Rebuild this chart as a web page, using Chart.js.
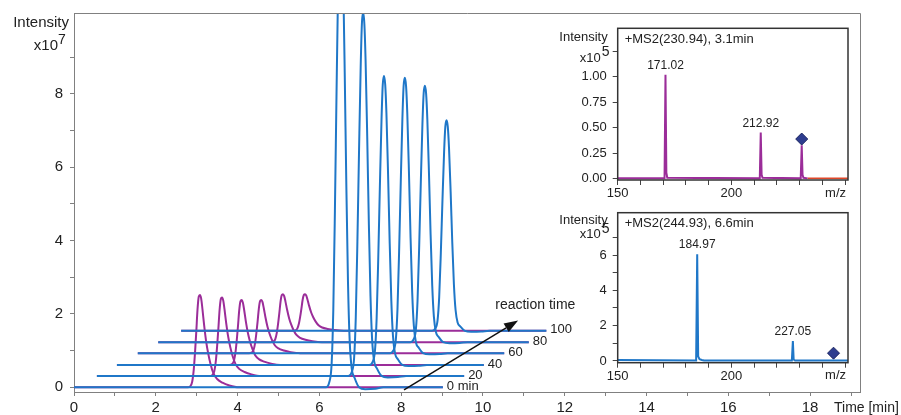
<!DOCTYPE html>
<html lang="en">
<head>
<meta charset="UTF-8">
<title>Reaction monitoring chromatograms</title>
<script src="https://cdn.jsdelivr.net/npm/chart.js"></script>
<style>
  body { margin: 0; background: #fff; }
  #wrap { position: relative; width: 901px; height: 415px; }
  #wrap canvas { position: absolute; }
  #mainChart { left: 0; top: 0; }
  #ms1 { left: 545px; top: 20px; }
  #ms2 { left: 545px; top: 205px; }
</style>
</head>
<body>
<div id="wrap">
  <canvas id="mainChart" width="901" height="415"></canvas>
  <canvas id="ms1" width="310" height="185"></canvas>
  <canvas id="ms2" width="310" height="185"></canvas>
</div>

<script>
  // ---- chromatograms (one per reaction time, stacked) ----
  const traceLabels  = ['0 min', '20', '40', '60', '80', '100'];
  const traceStart   = [0, 0.56, 1.05, 1.56, 2.06, 2.62];     // min
  const traceEnd     = [9.02, 9.54, 10.02, 10.52, 11.12, 11.55];
  const traceBase    = [0, 0.31, 0.61, 0.93, 1.23, 1.54];      // x10^7
  const purpleApex   = [3.08, 3.62, 4.10, 4.58, 5.11, 5.65];
  const purpleHeight = [2.52, 2.14, 1.77, 1.45, 1.31, 1.0];
  const blueApex     = [6.52, 7.07, 7.58, 8.09, 8.58, 9.11];
  const blueHeight   = [13, 9.9, 7.88, 7.51, 6.99, 5.74];

  // peak shapes: distance from apex (min), share of apex height
  const purpleDt  = [-0.30, -0.24, -0.19, -0.15, -0.12, -0.09, -0.06, -0.03, 0, 0.03, 0.06, 0.10, 0.15, 0.20, 0.26, 0.33, 0.42, 0.55, 0.72, 0.95];
  const purpleRel = [0, 0.01, 0.06, 0.20, 0.38, 0.60, 0.84, 0.98, 1, 0.96, 0.85, 0.68, 0.50, 0.37, 0.25, 0.15, 0.09, 0.05, 0.02, 0];
  // blue baseline sags a little after the peak, which lets the purple trace show there
  const blueDt    = [-0.36, -0.28, -0.22, -0.18, -0.14, -0.10, -0.06, -0.03, 0, 0.03, 0.06, 0.10, 0.14, 0.18, 0.22, 0.27, 0.34, 0.45, 0.60, 0.85, 1.05];
  const blueRel   = [0, 0.01, 0.05, 0.16, 0.37, 0.62, 0.85, 0.97, 1, 0.97, 0.87, 0.66, 0.42, 0.22, 0.10, 0.04, 0.02, 0.0, -0.004, -0.003, 0];

  // arrow + label, in data units
  const arrowFrom = [8.07, -0.07];
  const arrowTo   = [10.86, 1.82];
  const arrowText = [10.3, 2.24];

  // ---- MS2 spectra ----
  const ms1Mz   = [150, 170.6, 171.02, 171.4, 171.8, 212.5, 212.92, 213.3, 213.7, 230.5, 230.94, 231.3, 231.7, 233.5];
  const ms1Int  = [0.006, 0.004, 1.02, 0.06, 0.01, 0.004, 0.455, 0.04, 0.01, 0.004, 0.33, 0.04, 0.01, 0.004];
  const ms1TailMz  = [233.5, 251.3];
  const ms1TailInt = [0.004, 0.004];
  const ms1PeakMz  = [171.02, 212.92];
  const ms1PeakInt = [1.02, 0.455];
  const ms1PrecMz  = 230.94;
  const ms1PrecInt = 0.39;

  const ms2Mz   = [150, 184.5, 184.97, 185.4, 186, 187, 188, 226.6, 227.05, 227.4, 228, 251.3];
  const ms2Int  = [0.05, 0.03, 6.05, 0.25, 0.1, 0.05, 0.02, 0.02, 1.13, 0.08, 0.02, 0.02];
  const ms2PeakMz  = [184.97, 227.05];
  const ms2PeakInt = [6.05, 1.13];
  const ms2PrecMz  = 244.93;
  const ms2PrecInt = 0.44;

  const BLUE = '#1f77c8';
  const PURPLE = '#9b2d99';
  const FONT = 'Liberation Sans, Arial, sans-serif';
  Chart.defaults.font.family = FONT;
  Chart.defaults.color = '#222';

  function tracePoints(k, apex, height, dt, rel) {
    const pts = [{ x: traceStart[k], y: traceBase[k] }];
    for (let i = 0; i < dt.length; i++) {
      pts.push({ x: apex[k] + dt[i], y: traceBase[k] + height[k] * rel[i] });
    }
    pts.push({ x: traceEnd[k], y: traceBase[k] });
    return pts;
  }

  // keep the plot box where we put it (no extra room for edge tick labels)
  function fixBox(size, key) {
    return s => {
      s[key] = size;
      s.paddingTop = 0; s.paddingBottom = 0; s.paddingLeft = 0; s.paddingRight = 0;
    };
  }

  const lineStyle = { borderWidth: 2, pointRadius: 0, fill: false, cubicInterpolationMode: 'monotone' };
  const mainSets = [];
  // blue first so it lies on top
  for (let k = 0; k < traceLabels.length; k++) {
    mainSets.push({ ...lineStyle, borderColor: BLUE, data: tracePoints(k, blueApex, blueHeight, blueDt, blueRel) });
  }
  for (let k = 0; k < traceLabels.length; k++) {
    mainSets.push({ ...lineStyle, borderColor: PURPLE, data: tracePoints(k, purpleApex, purpleHeight, purpleDt, purpleRel) });
  }

  const mainDecor = {
    id: 'mainDecor',
    afterDraw(chart) {
      const { ctx, chartArea: a, scales: { x, y } } = chart;
      ctx.save();
      // frame top + right
      ctx.strokeStyle = '#808080';
      ctx.lineWidth = 1;
      ctx.beginPath();
      ctx.moveTo(a.left, a.top + 0.5);
      ctx.lineTo(a.right + 0.5, a.top + 0.5);
      ctx.lineTo(a.right + 0.5, a.bottom);
      ctx.stroke();

      // reaction time labels at trace ends
      ctx.fillStyle = '#222';
      ctx.font = '13px ' + FONT;
      ctx.textAlign = 'left';
      ctx.textBaseline = 'middle';
      traceLabels.forEach((t, k) => {
        ctx.fillText(t, x.getPixelForValue(traceEnd[k]) + 4, y.getPixelForValue(traceBase[k]) - 1);
      });

      // arrow
      const x0 = x.getPixelForValue(arrowFrom[0]), y0 = y.getPixelForValue(arrowFrom[1]);
      const x1 = x.getPixelForValue(arrowTo[0]), y1 = y.getPixelForValue(arrowTo[1]);
      const ang = Math.atan2(y1 - y0, x1 - x0);
      const hl = 14, hw = 5;
      const bx = x1 - hl * Math.cos(ang), by = y1 - hl * Math.sin(ang);
      ctx.strokeStyle = '#111';
      ctx.lineWidth = 1.5;
      ctx.beginPath();
      ctx.moveTo(x0, y0);
      ctx.lineTo(bx, by);
      ctx.stroke();
      ctx.fillStyle = '#111';
      ctx.beginPath();
      ctx.moveTo(x1, y1);
      ctx.lineTo(bx + hw * Math.sin(ang), by - hw * Math.cos(ang));
      ctx.lineTo(bx - hw * Math.sin(ang), by + hw * Math.cos(ang));
      ctx.closePath();
      ctx.fill();

      ctx.fillStyle = '#222';
      ctx.font = '14px ' + FONT;
      ctx.fillText('reaction time', x.getPixelForValue(arrowText[0]), y.getPixelForValue(arrowText[1]));

      // axis titles
      ctx.font = '15px ' + FONT;
      ctx.textAlign = 'right';
      ctx.fillText('Intensity', 69, 23);
      ctx.fillText('x10', 58, 46);
      ctx.textAlign = 'left';
      ctx.font = '14px ' + FONT;
      ctx.fillText('7', 58, 40);
      ctx.fillText('Time [min]', 834, 408);
      ctx.restore();
    }
  };

  new Chart(document.getElementById('mainChart'), {
    type: 'line',
    data: { datasets: mainSets },
    options: {
      responsive: false,
      animation: false,
      layout: { padding: { left: 0, top: 13, right: 41, bottom: 0 } },
      plugins: { legend: { display: false }, tooltip: { enabled: false } },
      scales: {
        x: {
          type: 'linear', min: 0, max: 19.22,
          afterFit: fixBox(23, 'height'),
          grid: { drawOnChartArea: false, tickLength: 4, color: '#808080' },
          border: { color: '#808080' },
          ticks: {
            stepSize: 1, autoSkip: false, maxRotation: 0, includeBounds: false, padding: 3,
            font: { size: 15 }, color: '#222',
            callback: v => (Number.isInteger(v) && v % 2 === 0) ? String(v) : ''
          }
        },
        y: {
          type: 'linear', min: -0.128, max: 10.207,
          afterFit: fixBox(74, 'width'),
          grid: {
            drawOnChartArea: false, tickLength: 4,
            color: c => (c.tick && c.tick.value > 9) ? 'rgba(0,0,0,0)' : '#808080'
          },
          border: { color: '#808080' },
          ticks: {
            stepSize: 1, includeBounds: false, padding: 7,
            font: { size: 15 }, color: '#222',
            callback: v => (Number.isInteger(v) && v % 2 === 0 && v <= 8) ? String(v) : ''
          }
        }
      }
    },
    plugins: [mainDecor]
  });

  // ---- insets ----
  const insetDecor = {
    id: 'insetDecor',
    afterDraw(chart, args, opts) {
      const { ctx, chartArea: a, scales: { x, y } } = chart;
      ctx.save();
      ctx.strokeStyle = '#333';
      ctx.lineWidth = 1.5;
      ctx.strokeRect(a.left, a.top, a.right - a.left, a.bottom - a.top);

      ctx.fillStyle = '#222';
      ctx.textBaseline = 'middle';
      ctx.font = '13px ' + FONT;
      ctx.textAlign = 'left';
      ctx.fillText(opts.title, a.left + 7, a.top + 11);

      ctx.textAlign = 'right';
      ctx.fillText('Intensity', a.left - 10, a.top + opts.intY);
      ctx.fillText('x10', a.left - 17, a.top + opts.expY);
      ctx.textAlign = 'left';
      ctx.font = '14px ' + FONT;
      ctx.fillText('5', a.left - 16, a.top + opts.expY - 6);

      ctx.font = '13px ' + FONT;
      ctx.textAlign = 'right';
      ctx.fillText('m/z', a.right - 2, a.bottom + 13);

      ctx.textAlign = 'center';
      ctx.font = '12px ' + FONT;
      opts.peakMz.forEach((m, i) => {
        ctx.fillText(m.toFixed(2), x.getPixelForValue(m), y.getPixelForValue(opts.peakInt[i]) - 9);
      });
      ctx.restore();
    }
  };

  function inset(id, sets, yScale, xHeight, top, decor) {
    return new Chart(document.getElementById(id), {
      type: 'line',
      data: { datasets: sets },
      options: {
        responsive: false,
        animation: false,
        layout: { padding: { left: 0, top: top, right: 5, bottom: 0 } },
        plugins: { legend: { display: false }, tooltip: { enabled: false }, insetDecor: decor },
        scales: {
          x: {
            type: 'linear', min: 150, max: 251.3,
            afterFit: fixBox(xHeight, 'height'),
            grid: { drawOnChartArea: false, tickLength: 5, color: '#444' },
            border: { display: false },
            ticks: {
              stepSize: 10, autoSkip: false, maxRotation: 0, includeBounds: false, padding: 1,
              font: { size: 13 }, color: '#222',
              callback: v => (v === 150 || v === 200) ? String(v) : ''
            }
          },
          y: Object.assign({
            type: 'linear',
            afterFit: fixBox(72.7, 'width'),
            border: { display: false }
          }, yScale)
        }
      },
      plugins: [insetDecor]
    });
  }

  const stick = { borderWidth: 2, pointRadius: 0, fill: false, tension: 0 };
  const diamond = { showLine: false, pointStyle: 'rectRot', pointRadius: 6, pointBackgroundColor: '#2e3d8f', pointBorderColor: '#1a2460', pointBorderWidth: 1 };

  inset('ms1', [
    { ...diamond, data: [{ x: ms1PrecMz, y: ms1PrecInt }] },
    { ...stick, borderColor: PURPLE, data: ms1Mz.map((m, i) => ({ x: m, y: ms1Int[i] })) },
    { ...stick, borderColor: '#e0482a', borderWidth: 1.5, data: ms1TailMz.map((m, i) => ({ x: m, y: ms1TailInt[i] })) }
  ], {
    min: -0.012, max: 1.477,
    grid: { drawOnChartArea: false, tickLength: 5, color: '#444' },
    ticks: {
      stepSize: 0.25, includeBounds: false, padding: 6, font: { size: 13 }, color: '#222',
      callback: v => v <= 1.001 ? v.toFixed(2) : ''
    }
  }, 25, 8.3, { title: '+MS2(230.94), 3.1min', intY: 9, expY: 30, peakMz: ms1PeakMz, peakInt: ms1PeakInt });

  inset('ms2', [
    { ...diamond, data: [{ x: ms2PrecMz, y: ms2PrecInt }] },
    { ...stick, borderColor: BLUE, data: ms2Mz.map((m, i) => ({ x: m, y: ms2Int[i] })) }
  ], {
    min: -0.1, max: 8.4,
    grid: {
      drawOnChartArea: false, tickLength: 5,
      color: c => (c.tick && c.tick.value > 7) ? 'rgba(0,0,0,0)' : '#444'
    },
    ticks: {
      stepSize: 1, includeBounds: false, padding: 6, font: { size: 13 }, color: '#222',
      callback: v => (v % 2 === 0 && v <= 6) ? String(v) : ''
    }
  }, 27.3, 7.7, { title: '+MS2(244.93), 6.6min', intY: 8, expY: 22, peakMz: ms2PeakMz, peakInt: ms2PeakInt });
</script>
</body>
</html>
